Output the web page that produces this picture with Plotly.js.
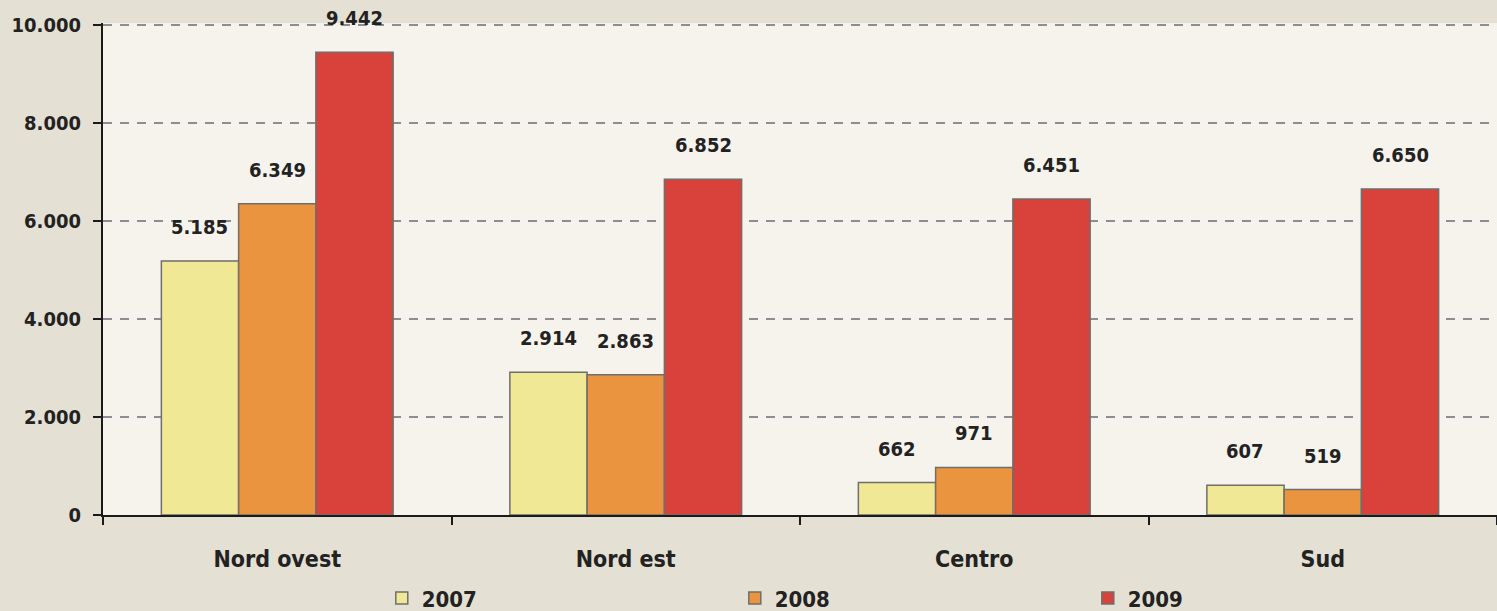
<!DOCTYPE html>
<html>
<head>
<meta charset="utf-8">
<script src="https://cdn.plot.ly/plotly-3.0.1.min.js"></script>
<style>html,body{margin:0;padding:0;background:#e5e0d4;}#chart{width:1497px;height:611px;}</style>
</head>
<body>
<div id="chart"></div>
<script>
var categories = ["Nord ovest", "Nord est", "Centro", "Sud"];
var years = ["2007", "2008", "2009"];
var values2007 = [5185, 2914, 662, 607];
var values2008 = [6349, 2863, 971, 519];
var values2009 = [9442, 6852, 6451, 6650];
var yTicks = [0, 2000, 4000, 6000, 8000, 10000];

var series = [values2007, values2008, values2009];
var colors = ["#f1e896", "#ea943f", "#d9423a"];
var fontFam = "'DejaVu Sans Condensed', 'DejaVu Sans', sans-serif";

var traces = series.map(function (vals, i) {
  return {
    type: "bar",
    name: years[i],
    x: categories,
    y: vals,
    marker: { color: colors[i], line: { color: "#6e6e6e", width: 1.5 } },
    hoverinfo: "skip"
  };
});

var annotations = [];
var barPx = 77.5;
series.forEach(function (vals, i) {
  vals.forEach(function (v, j) {
    annotations.push({
      x: categories[j], y: v, xref: "x", yref: "y",
      text: v.toLocaleString("de-DE"),
      showarrow: false, yanchor: "bottom",
      xshift: (i - 1) * barPx, yshift: 20,
      font: { family: fontFam, size: 20, color: "#222", weight: "bold" }
    });
  });
});

var layout = {
  width: 1497, height: 611,
  margin: { l: 103, r: 0, t: 23, b: 96, autoexpand: false },
  paper_bgcolor: "#e5e0d4",
  plot_bgcolor: "#f6f3ed",
  separators: ",.",
  barmode: "group",
  bargap: 0.335,
  bargroupgap: 0,
  showlegend: true,
  legend: {
    orientation: "h", x: 0.2, xanchor: "left", y: -0.169, yanchor: "middle",
    entrywidth: 308, entrywidthmode: "pixels",
    font: { family: fontFam, size: 22, color: "#222", weight: "bold" },
    tracegroupgap: 0, bgcolor: "rgba(0,0,0,0)"
  },
  xaxis: {
    type: "category", range: [-0.5, 3.5],
    showline: true, linecolor: "#1a1a1a", linewidth: 2,
    ticks: "outside", tickson: "boundaries", ticklen: 8, tickwidth: 2, tickcolor: "#1a1a1a",
    showgrid: false,
    tickfont: { family: fontFam, size: 23, color: "#222", weight: "bold" },
    ticklabelstandoff: 22
  },
  yaxis: {
    range: [0, 10040], tickvals: yTicks, tickformat: ",d",
    showline: true, linecolor: "#1a1a1a", linewidth: 2,
    ticks: "outside", ticklen: 8, tickwidth: 2, tickcolor: "#1a1a1a",
    showgrid: true, gridcolor: "#8b8e90", gridwidth: 2, griddash: "9px,8px",
    zeroline: false,
    tickfont: { family: fontFam, size: 20, color: "#222", weight: "bold" },
    ticklabelstandoff: 8
  },
  annotations: annotations
};

Plotly.newPlot("chart", traces, layout, { displayModeBar: false, staticPlot: true });
</script>
</body>
</html>
